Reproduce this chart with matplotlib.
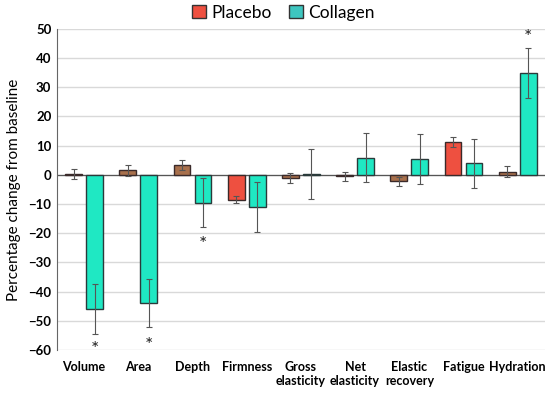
import numpy as np
from matplotlib import pyplot as plt

categories = ['Volume', 'Area', 'Depth', 'Firmness', 'Gross\nelasticity',
              'Net\nelasticity', 'Elastic\nrecovery', 'Fatigue', 'Hydration']
placebo = [0.3, 1.5, 3.3, -8.5, -1.0, -0.5, -2.2, 11.2, 1.0]
placebo_err = [1.6, 2.0, 1.8, 1.2, 1.7, 1.5, 1.6, 1.8, 1.9]
collagen = [-46.0, -44.0, -9.5, -11.0, 0.3, 5.9, 5.5, 3.9, 34.8]
collagen_err = [8.5, 8.3, 8.5, 8.5, 8.6, 8.4, 8.5, 8.4, 8.5]
# where the significance asterisks sit
star_y = [-58.0, -56.5, -22.0, None, None, None, None, None, 49.0]

plt.rcParams['font.family'] = ['Lato', 'DejaVu Sans']

red = '#ee5040'
brown = '#a8704c'
teal = '#1fe8c3'
placebo_colors = [brown, brown, brown, red, brown, brown, brown, red, brown]

fig = plt.figure(figsize=(5.5, 3.95), dpi=100)
ax = fig.add_axes([0.1036, 0.114, 0.887, 0.813])

x = np.arange(len(categories))
w = 0.31
off = 0.195
ax.bar(x - off, placebo, w, color=placebo_colors, edgecolor='#3a2a2a', linewidth=1.0,
       yerr=placebo_err, error_kw=dict(ecolor='#555555', elinewidth=0.8, capsize=2, capthick=0.8),
       zorder=3, label='Placebo')
ax.bar(x + off, collagen, w, color=teal, edgecolor='#2a3a3a', linewidth=1.0,
       yerr=collagen_err, error_kw=dict(ecolor='#555555', elinewidth=0.8, capsize=2, capthick=0.8),
       zorder=3, label='Collagen')

# '*' glyph sits high in its box, so anchor on a point below its visual centre
for xi, sy in zip(x, star_y):
    if sy is not None:
        ax.annotate('*', (xi + off, sy), xytext=(0, -4), textcoords='offset points',
                    ha='center', va='center', fontsize=14, color='#222222', annotation_clip=False)

ax.set_xlim(-0.5, len(categories) - 0.5)
ax.set_ylim(-60, 50)
ax.set_yticks(np.arange(-60, 51, 10))
ax.set_xticks(x)
ax.set_xticklabels(categories, fontsize=9, fontweight='bold', va='top')
for lbl in ax.get_yticklabels():
    lbl.set_fontweight('bold')
    lbl.set_fontsize(9.5)
ax.tick_params(length=0, pad=4)
ax.tick_params(axis='x', pad=8)
ax.grid(axis='y', color='#d9d9d9', linewidth=1.0, zorder=0)
ax.axhline(0, color='#555555', linewidth=0.9, zorder=2)
for s in ['top', 'right', 'bottom']:
    ax.spines[s].set_visible(False)
ax.spines['left'].set_color('#666666')
ax.set_ylabel('Percentage change from baseline', fontsize=11, labelpad=5)

handles = [plt.Rectangle((0, 0), 1, 1, facecolor=red, edgecolor='#333333'),
           plt.Rectangle((0, 0), 1, 1, facecolor='#3ec6c0', edgecolor='#333333')]
fig.legend(handles, ['Placebo', 'Collagen'], loc='center', bbox_to_anchor=(0.515, 0.968),
           ncol=2, frameon=False, fontsize=12.5, handlelength=0.8, handleheight=0.8,
           handletextpad=0.3, columnspacing=1.0)

fig.savefig('out.png', dpi=100)
